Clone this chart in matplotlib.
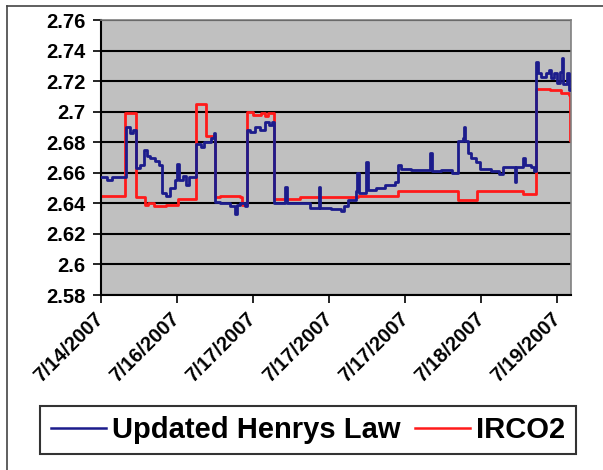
import matplotlib
matplotlib.use("Agg")
import matplotlib.pyplot as plt
from matplotlib.lines import Line2D

# ---- data (sample index, value), held until next point ----
henry_idx = [0, 8, 14, 33, 38, 42, 46, 51, 56, 60, 65, 71, 76, 80, 86, 91, 97, 100, 103,
             108, 112, 116, 125, 132, 136, 144, 148, 150, 157, 170, 176, 179, 183, 190,
             192, 196, 203, 209, 216, 221, 225, 227, 242, 244, 262, 275, 286, 288, 295,
             302, 315, 319, 325, 335, 337, 339, 349, 351, 361, 374, 387, 391, 395, 407,
             433, 435, 447, 462, 469, 476, 477, 479, 482, 486, 493, 499, 513, 523, 528,
             544, 546, 555, 557, 565, 570, 572, 574, 578, 585, 589, 592, 596, 599, 603,
             606, 608, 613, 615, 618]
henry_val = [2.657, 2.6555, 2.657, 2.690, 2.686, 2.688, 2.663, 2.665, 2.675, 2.671, 2.670,
             2.668, 2.665, 2.6465, 2.645, 2.650, 2.655, 2.666, 2.655, 2.658, 2.652, 2.657,
             2.679, 2.677, 2.680, 2.683, 2.686, 2.641, 2.640, 2.638, 2.633, 2.639, 2.640,
             2.638, 2.688, 2.687, 2.690, 2.688, 2.693, 2.691, 2.693, 2.640, 2.651, 2.640,
             2.640, 2.637, 2.651, 2.637, 2.637, 2.636, 2.635, 2.638, 2.642, 2.648, 2.660,
             2.647, 2.667, 2.649, 2.650, 2.652, 2.654, 2.665, 2.6625, 2.6615, 2.673, 2.661,
             2.662, 2.660, 2.681, 2.683, 2.690, 2.681, 2.673, 2.670, 2.667, 2.6625, 2.661,
             2.659, 2.664, 2.654, 2.664, 2.670, 2.665, 2.664, 2.661, 2.7325, 2.725, 2.723,
             2.725, 2.727, 2.722, 2.725, 2.719, 2.726, 2.735, 2.718, 2.725, 2.714, 2.715]

irco2_idx = [0, 32, 46, 58, 62, 70, 85, 101, 125, 138, 150, 157, 183, 186, 192, 200, 210,
             215, 220, 227, 262, 338, 391, 469, 494, 555, 572, 590, 605, 615, 617, 618]
irco2_val = [2.645, 2.699, 2.644, 2.639, 2.640, 2.638, 2.639, 2.643, 2.705, 2.684, 2.644,
             2.645, 2.644, 2.639, 2.700, 2.698, 2.699, 2.697, 2.699, 2.643, 2.644, 2.645,
             2.648, 2.642, 2.648, 2.646, 2.715, 2.714, 2.712, 2.711, 2.681, 2.681]

tick_pos = [0, 100, 200, 300, 400, 500, 600]
tick_labels = ["7/14/2007", "7/16/2007", "7/17/2007", "7/17/2007", "7/17/2007",
               "7/18/2007", "7/19/2007"]
y_ticks = [2.58, 2.60, 2.62, 2.64, 2.66, 2.68, 2.70, 2.72, 2.74, 2.76]
y_labels = ["2.58", "2.6", "2.62", "2.64", "2.66", "2.68", "2.7", "2.72", "2.74", "2.76"]

plt.rcParams['font.family'] = ['Liberation Sans', 'DejaVu Sans']

W, H = 603, 470
fig = plt.figure(figsize=(W / 100, H / 100), dpi=100)
fig.patch.set_facecolor("white")

L, R, T, B = 101, 571, 20, 295
ax = fig.add_axes([L / W, 1 - B / H, (R - L) / W, (B - T) / H])
ax.set_facecolor("#C0C0C0")

ax.plot(henry_idx, henry_val, drawstyle="steps-post", color="#1C1C8C", lw=2.0, zorder=3)
ax.plot(irco2_idx, irco2_val, drawstyle="steps-post", color="#FF1A1A", lw=2.0, zorder=2)

ax.set_xlim(0, 618)
ax.set_ylim(2.58, 2.76)
ax.set_yticks(y_ticks)
ax.set_yticklabels(y_labels, fontsize=14.5, fontweight="bold")
ax.set_xticks(tick_pos)
ax.set_xticklabels(tick_labels, fontsize=14.5, fontweight="bold", rotation=45,
                   ha="right", va="center", rotation_mode="anchor")
ax.tick_params(axis="both", direction="out", length=6, width=1.2, color="black")
ax.tick_params(axis="y", pad=5)
ax.tick_params(axis="x", pad=9)
ax.yaxis.grid(True, color="black", lw=1.5)
ax.set_axisbelow(True)
for s in ["left", "bottom"]:
    ax.spines[s].set_color("black")
    ax.spines[s].set_linewidth(1.5)
for s in ["top", "right"]:
    ax.spines[s].set_color("#808080")
    ax.spines[s].set_linewidth(1.2)

# outer chart border (left and top edges visible)
fig.add_artist(Line2D([7 / W, 7 / W], [0, 1 - 6 / H], transform=fig.transFigure,
                      color="#444444", lw=1.2))
fig.add_artist(Line2D([7 / W, 1], [1 - 6 / H, 1 - 6 / H], transform=fig.transFigure,
                      color="#444444", lw=1.2))

handles = [Line2D([], [], color="#1C1C8C", lw=1.8), Line2D([], [], color="#FF1A1A", lw=1.8)]
leg = fig.legend(handles, ["Updated Henrys Law", "IRCO2"], loc="center",
                 bbox_to_anchor=((37 + 579) / 2 / W, 1 - 430 / H), ncol=2,
                 prop={"size": 21, "weight": "bold"}, frameon=True, fancybox=False,
                 edgecolor="black", handlelength=1.9, handletextpad=0.2,
                 columnspacing=0.5, borderpad=0.35)
leg.get_frame().set_linewidth(1.5)

fig.savefig("out.png", dpi=100)
